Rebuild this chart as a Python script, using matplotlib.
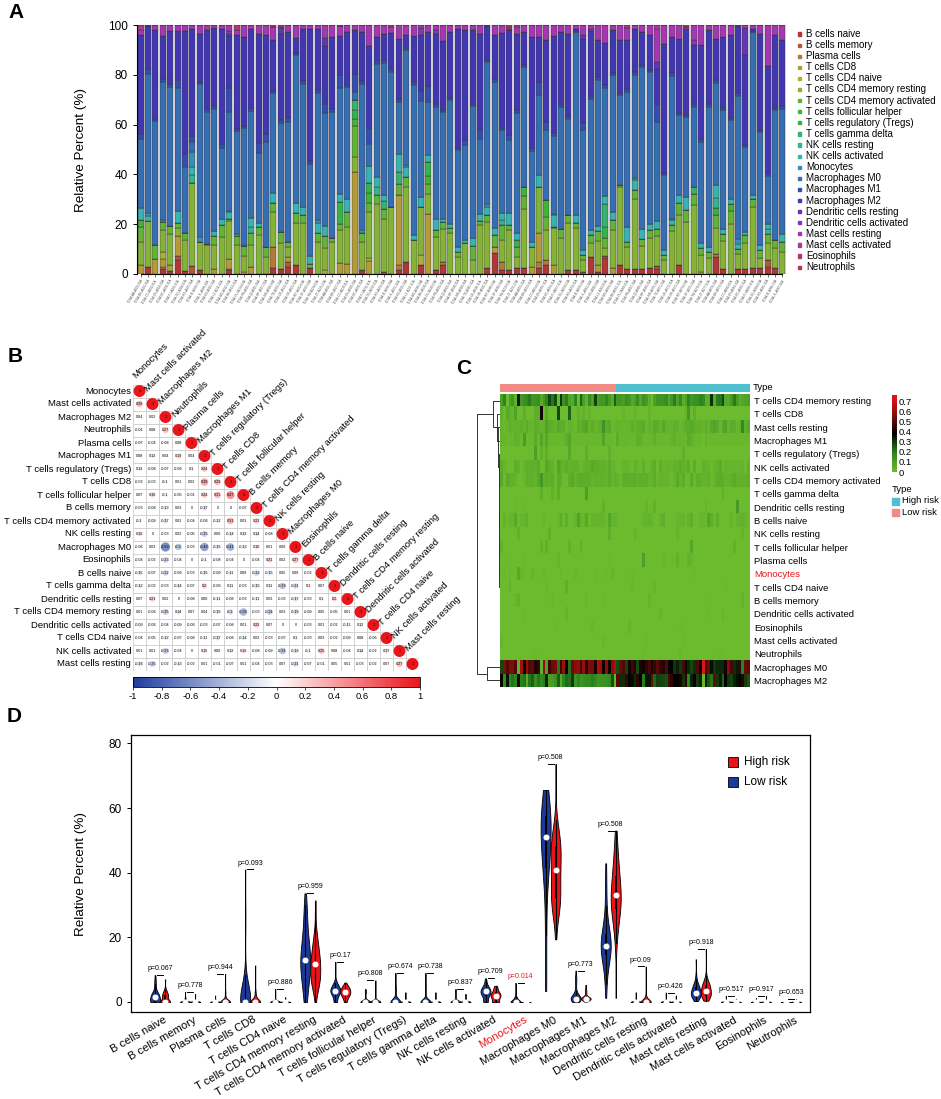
import colorsys
import numpy as np
import matplotlib
matplotlib.use("Agg")
import matplotlib.pyplot as plt
from matplotlib.colors import LinearSegmentedColormap, ListedColormap, Normalize
from matplotlib.patches import Rectangle, Circle
from matplotlib.cm import ScalarMappable

plt.rcParams['font.family'] = ['Liberation Sans', 'DejaVu Sans']

cell_types = ["B cells naive", "B cells memory", "Plasma cells", "T cells CD8",
              "T cells CD4 naive", "T cells CD4 memory resting",
              "T cells CD4 memory activated", "T cells follicular helper",
              "T cells regulatory (Tregs)", "T cells gamma delta", "NK cells resting",
              "NK cells activated", "Monocytes", "Macrophages M0", "Macrophages M1",
              "Macrophages M2", "Dendritic cells resting", "Dendritic cells activated",
              "Mast cells resting", "Mast cells activated", "Eosinophils", "Neutrophils"]

# ---- panel A: relative percent per sample (88 samples) ----
b_naive = [0, 2.7, 0, 1.9, 1.3, 5.6, 1.3, 0, 1.6, 0,
           0, 0, 1.6, 0, 0, 0, 0, 0, 2.3, 1.9,
           2.7, 3.6, 0, 2.3, 0, 0, 0, 0, 0, 0,
           1.6, 0, 0, 0, 0, 1.5, 4.9, 0, 3.6, 0,
           1.6, 3.6, 0, 0, 0, 0, 0, 2.3, 8.3, 1.6,
           1.6, 2.3, 2.3, 0, 2.3, 3.6, 0, 0, 1.6, 1.6,
           0, 7.0, 1.0, 6.3, 0, 3.6, 1.9, 2.0, 2.0, 2.5,
           1.9, 0, 0, 3.6, 0, 0, 0, 0, 7.0, 2.0,
           0, 2.0, 2.0, 2.5, 2.5, 3.0, 2.5, 0]
t_cd8 = [3.6, 0, 6.2, 3.5, 2.3, 8.3, 0, 0, 0, 0,
         2.0, 0, 4.0, 0, 0, 2.7, 0, 0, 0, 0,
         2.3, 0, 0, 0, 0, 0, 0, 4.3, 4.0, 41.0,
         0, 5.4, 0, 0, 0, 28.1, 0, 0, 0, 24.2,
         0, 0, 0, 0, 0, 0, 0, 0, 2.7, 0,
         0, 0, 0, 2.7, 11.3, 0, 3.6, 0, 0, 0,
         0, 0, 2.7, 0, 2.3, 0, 0, 0, 0, 0,
         0, 0, 0, 0, 0, 0, 0, 0, 0, 0,
         0, 0, 0, 0, 0, 0, 0, 0]
t_cd4_resting = [9.4, 18.6, 0, 9.0, 12.4, 3.0, 12.3, 33.6, 11.4, 11.6,
                 9.6, 15.0, 15.0, 11.6, 6.3, 9.0, 15.7, 7.0, 14.0, 10.4,
                 4.0, 16.7, 20.3, 0, 13.0, 9.0, 13.0, 13.4, 15.0, 6.0,
                 11.4, 18.3, 28.2, 20.9, 27.0, 0, 30.0, 13.7, 19.4, 8.0,
                 13.4, 13.4, 16.3, 7.0, 12.3, 5.6, 19.7, 18.7, 0, 8.7,
                 16.0, 4.5, 24.0, 8.0, 18.6, 12.0, 14.7, 14.3, 18.7, 16.7,
                 5.0, 5.3, 9.4, 3.3, 15.4, 31.4, 9.0, 28.3, 9.2, 12.0,
                 12.0, 5.5, 17.1, 20.0, 20.9, 27.6, 7.0, 6.3, 10.6, 11.2,
                 20.2, 6.2, 10.6, 24.5, 4.0, 7.0, 8.0, 9.0]
t_cd4_activated = [5.7, 0, 5.6, 3.3, 3.3, 2.1, 2.7, 0, 0, 0.6,
                   3.7, 4.7, 1.0, 3.6, 4.0, 4.7, 3.3, 4.0, 3.6, 4.4,
                   2.0, 4.0, 3.4, 1.7, 3.3, 4.6, 1.3, 2.3, 6.0, 12.4,
                   3.3, 4.0, 3.4, 4.3, 0, 4.7, 4.1, 0, 0, 4.0,
                   2.7, 2.6, 2.2, 2.0, 0, 5.8, 1.5, 2.6, 4.7, 6.0,
                   2.0, 4.0, 5.1, 0, 0, 5.3, 0.6, 3.9, 3.3, 2.0,
                   2.0, 3.3, 4.0, 4.0, 4.0, 0.6, 2.0, 3.3, 3.0, 3.0,
                   3.0, 2.0, 2.5, 5.0, 5.0, 4.4, 2.5, 2.5, 5.0, 3.0,
                   5.1, 2.0, 3.0, 3.3, 3.0, 3.5, 3.0, 4.0]
nk_activated = [4.7, 2.0, 0, 0, 0, 4.7, 0, 3.3, 0, 0,
                2.1, 2.5, 2.6, 1.0, 0, 3.5, 1.6, 0, 3.8, 0,
                0, 4.2, 3.3, 3.2, 4.0, 4.0, 0, 3.3, 5.0, 0,
                0, 6.7, 3.9, 2.7, 0, 7.3, 4.0, 2.0, 4.0, 2.5,
                4.5, 1.3, 1.7, 2.0, 1.4, 3.0, 3.0, 3.3, 2.6, 2.7,
                4.7, 2.7, 0, 2.0, 4.7, 0, 4.7, 0, 0, 3.3,
                2.0, 2.0, 2.0, 3.3, 3.3, 0, 6.0, 4.0, 4.0, 2.7,
                3.3, 2.0, 2.0, 3.0, 5.0, 0, 2.0, 2.0, 5.3, 2.0,
                2.0, 2.0, 1.3, 1.3, 2.0, 2.0, 0, 3.0]
mac_m0 = [28.0, 55.9, 49.5, 55.2, 55.8, 49.3, 26.8, 4.0, 61.5, 52.9,
          48.9, 28.4, 39.5, 41.1, 46.8, 43.2, 27.8, 42.0, 40.1, 44.1,
          48.2, 59.6, 49.5, 37.1, 50.9, 45.7, 50.8, 42.2, 45.0, 3.4,
          58.9, 8.7, 45.5, 52.9, 54.2, 20.8, 46.2, 60.3, 38.2, 21.4,
          44.9, 42.8, 49.5, 38.7, 38.2, 52.9, 30.2, 56.9, 58.9, 33.4,
          29.4, 48.2, 48.2, 36.8, 32.2, 28.1, 31.4, 48.9, 38.8, 73.6,
          48.0, 52.8, 58.9, 43.5, 54.9, 36.2, 54.2, 41.5, 64.9, 60.9,
          39.5, 30.1, 57.5, 32.1, 32.1, 32.2, 40.8, 56.3, 40.9, 47.5,
          31.4, 57.5, 34.1, 65.6, 45.5, 19.4, 52.2, 50.4]
mac_m1 = [2.0, 2.0, 1.0, 1.3, 1.3, 3.3, 4.9, 2.4, 0.5, 1.0,
          1.3, 1.7, 9.7, 1.0, 1.0, 1.0, 4.3, 3.4, 1.0, 1.0,
          1.3, 0.5, 1.0, 1.0, 1.0, 3.4, 1.0, 5.3, 1.0, 7.4,
          1.0, 6.7, 1.0, 1.0, 1.0, 1.0, 0.5, 1.0, 4.0, 6.7,
          1.0, 1.0, 1.0, 1.0, 2.0, 1.0, 3.3, 1.0, 1.0, 1.0,
          2.0, 1.0, 1.0, 1.0, 5.3, 3.3, 1.0, 1.0, 1.0, 0,
          2.7, 1.0, 1.0, 1.0, 1.0, 1.0, 1.0, 1.0, 1.0, 1.0,
          7.4, 1.0, 1.0, 1.0, 1.0, 1.0, 1.0, 1.0, 1.0, 1.0,
          1.0, 1.0, 1.0, 0, 1.0, 1.0, 1.0, 1.0]
mac_m2 = [39.4, 17.2, 35.6, 17.4, 21.1, 18.8, 49.6, 42.9, 19.4, 31.8,
          31.2, 46.0, 21.1, 37.5, 35.8, 31.8, 43.5, 39.7, 20.4, 34.5,
          34.8, 6.2, 20.9, 53.0, 24.6, 23.4, 29.2, 15.8, 21.0, 17.4,
          19.7, 32.8, 9.7, 10.4, 14.5, 24.4, 5.5, 18.4, 22.7, 21.4,
          28.4, 27.8, 26.5, 47.6, 44.1, 29.8, 38.8, 13.7, 17.9, 37.9,
          42.1, 30.5, 13.1, 44.5, 18.1, 32.8, 39.2, 29.1, 33.1, 1.3,
          33.8, 26.1, 14.9, 17.0, 16.9, 21.0, 19.7, 17.1, 13.1, 13.7,
          14.0, 51.9, 14.4, 29.8, 34.3, 23.7, 37.8, 29.8, 16.4, 28.5,
          33.1, 27.2, 35.8, 1.3, 38.5, 43.2, 29.1, 26.4]
# minor populations: only the samples where a segment is visible
b_memory = {5: 1.5, 7: 3.1, 20: 2.0, 33: 1.0, 60: 0.8, 63: 1.0, 70: 1.2, 85: 2.5}
plasma = {3: 0.8, 12: 0.5, 18: 8.7, 35: 2.0, 41: 1.2, 49: 3.3, 54: 2.7, 55: 2.0, 78: 1.0}
t_cd4_naive = {3: 2.5, 14: 1.0, 25: 1.5, 31: 1.0, 38: 4.1, 76: 0.8}
t_fh = {0: 3.0, 29: 3.0, 31: 4.0, 39: 3.0, 52: 3.5, 55: 6.7, 80: 3.0}
t_reg = {27: 9.0, 29: 3.5, 31: 4.0, 39: 5.9, 51: 3.0, 63: 4.4, 78: 3.0}
t_gd = {29: 3.8, 33: 3.0, 35: 4.7, 63: 9.0, 75: 3.0}
nk_resting = {7: 3.0, 15: 2.5, 32: 3.5, 49: 2.0, 78: 4.0, 85: 2.0}
monocytes = {1: 1.0, 3: 0.8, 7: 5.9, 8: 2.0, 12: 0.7, 14: 0.4, 24: 1.5, 30: 1.2,
             36: 0.9, 47: 1.2, 56: 0.5, 67: 1.0, 72: 0.6, 81: 1.8}
dc_resting = {5: 1.0, 12: 0.8, 19: 2.5, 25: 3.0, 60: 1.5, 70: 3.0, 82: 11.0}
dc_activated = {12: 1.0, 38: 2.9, 40: 1.5, 61: 0.8, 75: 2.0}
mast_activated = {0: 1.9, 19: 0.8, 51: 1.0, 70: 1.5}
eosinophils = {13: 1.9, 34: 0.8, 50: 0.6, 66: 1.2}
neutrophils = {18: 0.9, 27: 0.4, 50: 0.9, 74: 0.7}

risk = ("LLLLLLHLLH" "HHLHHHHHHH" "HLLHLHHLLL" "LLLLLLLLLL" "HHHHHLHLLH"
        "HHLHHHHHHH" "HHLLLHLLLL" "LHLHHHHHLH" "HLHLHHHH")

# ---- panel B: correlation matrix (lower triangle, without diagonal) ----
corr_order = ["Monocytes", "Mast cells activated", "Macrophages M2", "Neutrophils",
              "Plasma cells", "Macrophages M1", "T cells regulatory (Tregs)", "T cells CD8",
              "T cells follicular helper", "B cells memory", "T cells CD4 memory activated",
              "NK cells resting", "Macrophages M0", "Eosinophils", "B cells naive",
              "T cells gamma delta", "Dendritic cells resting", "T cells CD4 memory resting",
              "Dendritic cells activated", "T cells CD4 naive", "NK cells activated",
              "Mast cells resting"]
corr_rows = [
    [],
    [0.29],
    [0.04, 0.02],
    [-0.01, 0.08, 0.27],
    [-0.07, -0.04, -0.08, 0.08],
    [0.08, 0.13, 0.04, 0.19, 0.04],
    [0.13, -0.08, -0.07, -0.06, 0.1, 0.24],
    [-0.02, -0.03, -0.1, 0.01, 0.02, 0.39, 0.29],
    [0.07, 0.19, -0.1, -0.05, -0.01, 0.24, 0.31, 0.47],
    [-0.03, -0.08, -0.13, 0.03, 0, -0.17, 0, 0, -0.07],
    [-0.1, -0.09, -0.17, 0.02, -0.04, -0.06, -0.12, 0.31, 0.03, 0.22],
    [0.16, 0, -0.03, 0.02, -0.05, -0.25, 0.06, -0.14, 0.13, 0.14, -0.08],
    [-0.06, 0.03, -0.59, -0.3, -0.03, -0.48, -0.15, -0.41, -0.13, 0.16, 0.01, 0.06],
    [-0.04, -0.02, -0.23, -0.04, 0, -0.1, -0.08, -0.04, 0, -0.04, 0.21, 0.02, 0.27],
    [-0.15, -0.07, -0.22, -0.06, -0.03, -0.15, -0.09, -0.11, 0.09, -0.22, -0.15, 0.05,
     0.09, -0.02],
    [-0.12, -0.02, -0.03, -0.14, -0.07, 0.2, -0.06, 0.11, -0.03, -0.15, 0.11, -0.29,
     -0.21, 0.1, 0.07],
    [0.07, 0.21, 0.02, 0, -0.08, 0.09, -0.11, -0.08, -0.03, -0.11, 0.03, -0.02, -0.17,
     -0.03, 0.1, 0.2],
    [0.01, -0.06, -0.25, 0.14, 0.07, 0.04, -0.15, -0.2, -0.39, -0.03, -0.24, 0.03, -0.19,
     -0.09, 0.05, -0.05, 0.01],
    [-0.09, -0.06, -0.04, -0.09, -0.06, -0.03, -0.07, -0.08, 0.01, 0.22, 0.07, 0, 0,
     -0.03, 0.01, -0.02, -0.11, 0.12],
    [-0.04, -0.05, -0.12, -0.07, -0.08, -0.11, -0.17, -0.08, -0.14, 0.02, -0.03, -0.07,
     0.1, -0.03, 0.03, -0.02, -0.09, 0.08, -0.06],
    [0.01, 0.01, -0.26, -0.04, 0, 0.15, 0.09, 0.12, 0.16, -0.08, -0.09, -0.31, -0.16,
     -0.1, 0.25, 0.08, -0.04, 0.14, -0.02, 0.17],
    [-0.16, -0.25, -0.02, -0.13, -0.02, 0.01, -0.01, -0.07, 0.01, -0.04, -0.03, 0.07,
     -0.21, -0.07, -0.01, 0.05, 0.01, -0.03, -0.02, 0.07, 0.27],
]

# ---- panel C: heatmap row order + dendrogram merges (node, node, height) ----
heat_order = ["T cells CD4 memory resting", "T cells CD8", "Mast cells resting",
              "Macrophages M1", "T cells regulatory (Tregs)", "NK cells activated",
              "T cells CD4 memory activated", "T cells gamma delta", "Dendritic cells resting",
              "B cells naive", "NK cells resting", "T cells follicular helper", "Plasma cells",
              "Monocytes", "T cells CD4 naive", "B cells memory", "Dendritic cells activated",
              "Eosinophils", "Mast cells activated", "Neutrophils", "Macrophages M0",
              "Macrophages M2"]
den_merges = [(18, 19, 0.010), (17, 22, 0.012), (16, 23, 0.014), (15, 24, 0.016),
              (14, 25, 0.018), (13, 26, 0.020), (12, 27, 0.022), (11, 28, 0.025),
              (10, 29, 0.028), (9, 30, 0.032), (8, 31, 0.036), (7, 32, 0.040),
              (6, 33, 0.045), (5, 34, 0.050), (4, 35, 0.055), (3, 36, 0.070),
              (2, 37, 0.100), (1, 38, 0.140), (0, 39, 0.300), (20, 21, 0.570),
              (40, 41, 1.000)]

# ---- panel D: Wilcoxon p values ----
p_values = [0.067, 0.778, 0.944, 0.093, 0.886, 0.959, 0.17, 0.808, 0.674, 0.738, 0.837,
            0.709, 0.014, 0.508, 0.773, 0.508, 0.09, 0.426, 0.918, 0.517, 0.917, 0.653]

n = len(b_naive)


def expand(d):
    a = np.zeros(n)
    for i, v in d.items():
        a[i] = v
    return a


pct = {
    "B cells naive": np.array(b_naive), "B cells memory": expand(b_memory),
    "Plasma cells": expand(plasma), "T cells CD8": np.array(t_cd8),
    "T cells CD4 naive": expand(t_cd4_naive), "T cells CD4 memory resting": np.array(t_cd4_resting),
    "T cells CD4 memory activated": np.array(t_cd4_activated),
    "T cells follicular helper": expand(t_fh), "T cells regulatory (Tregs)": expand(t_reg),
    "T cells gamma delta": expand(t_gd), "NK cells resting": expand(nk_resting),
    "NK cells activated": np.array(nk_activated), "Monocytes": expand(monocytes),
    "Macrophages M0": np.array(mac_m0), "Macrophages M1": np.array(mac_m1),
    "Macrophages M2": np.array(mac_m2), "Dendritic cells resting": expand(dc_resting),
    "Dendritic cells activated": expand(dc_activated),
    "Mast cells activated": expand(mast_activated), "Eosinophils": expand(eosinophils),
    "Neutrophils": expand(neutrophils),
}
# mast cells resting fill the rest of each bar
pct["Mast cells resting"] = np.clip(100 - sum(pct.values()), 0, None)

colors = [colorsys.hsv_to_rgb(i / 22, 0.7, 0.7) for i in range(22)]

W, H = 941, 1099
fig = plt.figure(figsize=(W / 100, H / 100), dpi=100)


def box(x0, y0, x1, y1):
    return fig.add_axes([x0 / W, 1 - y1 / H, (x1 - x0) / W, (y1 - y0) / H])


# ================= A =================
axA = box(137, 25, 786, 274)
x = np.arange(n)
bottom = np.zeros(n)
for name, col in zip(cell_types, colors):
    axA.bar(x, pct[name], 0.82, bottom=bottom, color=col, edgecolor='#3a3a3a', linewidth=0.35)
    bottom += pct[name]
axA.set_xlim(-0.5, n - 0.5)
axA.set_ylim(0, 100)
for s in ['top', 'right']:
    axA.spines[s].set_visible(False)
axA.spines['left'].set_bounds(0, 100)
axA.spines['bottom'].set_bounds(0, n - 1)
axA.set_yticks([0, 20, 40, 60, 80, 100])
axA.tick_params(axis='y', labelsize=8.5, length=3, width=0.7)
sample_ids = [f"TCGA-{chr(65 + i % 26)}{chr(65 + (i * 7) % 26)}-A{i:03d}-01A" for i in range(n)]
axA.set_xticks(x)
axA.set_xticklabels(sample_ids, rotation=60, fontsize=2.2, ha='right',
                    rotation_mode='anchor', color='#555555')
axA.tick_params(axis='x', length=2, width=0.4, pad=1)
fig.text(81 / W, 1 - 150 / H, "Relative Percent (%)", rotation=90, ha='center', va='center',
         fontsize=9.7)

axL = box(790, 25, 941, 275)
axL.set_xlim(0, 151)
axL.set_ylim(250, 0)
axL.axis('off')
for i, (name, col) in enumerate(zip(cell_types, colors)):
    yy = 9 + 11.1 * i
    axL.add_patch(Rectangle((7.5, yy - 1.6), 3.2, 3.2, color=col))
    axL.text(16, yy, name, fontsize=7, va='center', ha='left')

# ================= B =================
cmapB = LinearSegmentedColormap.from_list('bwr_c', ['#1E3C9C', '#FFFFFF', '#E8151B'])
axB = box(133, 384.5, 419, 670.5)
axB.set_xlim(-0.5, 21.5)
axB.set_ylim(21.5, -0.5)
axB.axis('off')
for i in range(22):
    vals = corr_rows[i] + [1.0]
    for j, r in enumerate(vals):
        axB.add_patch(Rectangle((j - 0.5, i - 0.5), 1, 1, fc='white', ec='#c8c8c8', lw=0.5))
        if r != 0:
            axB.add_patch(Circle((j, i), 0.46 * np.sqrt(abs(r)), fc=cmapB((r + 1) / 2),
                                 ec='none'))
        axB.text(j, i, '%g' % r, ha='center', va='center', fontsize=2.7, color='black')
    axB.text(-0.65, i, corr_order[i], ha='right', va='center', fontsize=6.8)
    axB.text(i - 0.2, i - 0.85, corr_order[i], ha='left', va='bottom', rotation=45,
             rotation_mode='anchor', fontsize=6.8)
axBC = box(133, 677, 420, 687)
cbB = fig.colorbar(ScalarMappable(Normalize(-1, 1), cmapB), cax=axBC, orientation='horizontal')
ticksB = np.round(np.linspace(-1, 1, 11), 1)
cbB.set_ticks(ticksB)
cbB.set_ticklabels(['%g' % t for t in ticksB])
cbB.ax.tick_params(labelsize=6.8, length=2, width=0.5, pad=1.5)
cbB.outline.set_linewidth(0.6)

# ================= C =================
order = [i for i in range(n) if risk[i] == 'L'] + [i for i in range(n) if risk[i] == 'H']
mat = np.array([pct[name][order] / 100 for name in heat_order])
cmapC = LinearSegmentedColormap.from_list('gbr', [(0, '#6CBA2E'), (0.25, '#2A8420'),
                                                  (0.5, '#000000'), (0.75, '#8A0E0E'),
                                                  (1, '#E8141A')])
vmaxC = 0.76
axC = box(500, 394, 750, 687)
axC.imshow(mat, aspect='auto', cmap=cmapC, vmin=0, vmax=vmaxC, interpolation='nearest')
axC.set_xticks([])
axC.yaxis.tick_right()
axC.set_yticks(range(22))
axC.set_yticklabels(heat_order, fontsize=6.8)
axC.tick_params(axis='y', length=0, pad=3)
for lab in axC.get_yticklabels():
    if lab.get_text() == "Monocytes":
        lab.set_color('#E8141A')
for s in axC.spines.values():
    s.set_visible(False)

low_col, high_col = '#F08A84', '#4EC0CF'
axT = box(500, 384, 750, 392)
grp = np.array([[0 if risk[i] == 'L' else 1 for i in order]])
axT.imshow(grp, aspect='auto', cmap=ListedColormap([low_col, high_col]), vmin=0, vmax=1,
           interpolation='nearest')
axT.axis('off')
fig.text(753 / W, 1 - 388 / H, "Type", fontsize=6.8, va='center')

axCC = box(892, 395, 897, 472)
cbC = fig.colorbar(ScalarMappable(Normalize(0, vmaxC), cmapC), cax=axCC)
ticksC = np.round(np.arange(0, 0.71, 0.1), 1)
cbC.set_ticks(ticksC)
cbC.set_ticklabels(['%g' % t for t in ticksC])
cbC.ax.tick_params(labelsize=6.8, length=0, pad=1.5)
cbC.outline.set_visible(False)
fig.text(892 / W, 1 - 489 / H, "Type", fontsize=6.8, va='center')
for k, (lab, col) in enumerate([("High risk", high_col), ("Low risk", low_col)]):
    yc = 501 + 11.5 * k
    fig.patches.append(Rectangle((892 / W, 1 - (yc + 3.5) / H), 7 / W, 7 / H, color=col,
                                 transform=fig.transFigure))
    fig.text(902 / W, 1 - yc / H, lab, fontsize=6.8, va='center')

axDen = box(470, 394, 500, 687)
axDen.set_xlim(30 / 23, 0)
axDen.set_ylim(21.5, -0.5)
axDen.axis('off')
pos = {i: (float(i), 0.0) for i in range(22)}
for k, (a, b, h) in enumerate(den_merges):
    ya, ha = pos[a]
    yb, hb = pos[b]
    axDen.plot([ha, h, h, hb], [ya, ya, yb, yb], color='#333333', lw=0.7)
    pos[22 + k] = ((ya + yb) / 2, h)

# ================= D =================
blue, red = '#1C3A98', '#E8141A'
axD = box(131, 735, 810, 1012)
axD.set_xlim(-2.4, 65.4)
axD.set_ylim(-3.1, 82.6)


def violin(ax, vals, xc, color):
    lo, hi = vals.min(), vals.max()
    q1, med, q3 = np.percentile(vals, [25, 50, 75])
    if hi - lo > 1e-9:
        h = vals.std(ddof=1) * (4 / (3 * len(vals))) ** 0.2
        ys = np.linspace(lo, hi, 300)
        dens = np.exp(-0.5 * ((ys[:, None] - vals[None, :]) / h) ** 2).sum(1)
        w = dens / dens.max() * 0.5
        ax.fill_betweenx(ys, xc - w, xc + w, facecolor=color, edgecolor='black', linewidth=0.6)
        iqr = q3 - q1
        wl = vals[vals >= q1 - 1.5 * iqr].min()
        wh = vals[vals <= q3 + 1.5 * iqr].max()
        ax.plot([xc, xc], [wl, wh], color='black', lw=0.8)
        ax.add_patch(Rectangle((xc - 0.06, q1), 0.12, q3 - q1, fc='black', ec='none'))
    ax.plot(xc, med, 'o', ms=3.3, mfc='white', mec='white')


for i, name in enumerate(cell_types):
    v = pct[name]
    low = np.array([v[k] for k in range(n) if risk[k] == 'L'])
    high = np.array([v[k] for k in range(n) if risk[k] == 'H'])
    violin(axD, low, 3 * i, blue)
    violin(axD, high, 3 * i + 1, red)
    mx = max(low.max(), high.max())
    axD.plot([3 * i + 0.2, 3 * i + 0.8], [mx, mx], color='black', lw=0.7)
    axD.text(3 * i + 0.5, mx + 0.9, 'p=%g' % p_values[i], ha='center', va='bottom', fontsize=5,
             color=red if name == "Monocytes" else 'black')

axD.set_yticks([0, 20, 40, 60, 80])
axD.tick_params(axis='y', labelsize=8.5, length=3, width=0.7)
axD.set_xticks(np.arange(22) * 3 + 0.8)
axD.set_xticklabels(cell_types, rotation=30, ha='right', rotation_mode='anchor', fontsize=8)
axD.tick_params(axis='x', length=0, pad=2)
for lab in axD.get_xticklabels():
    if lab.get_text() == "Monocytes":
        lab.set_color(red)
for s in axD.spines.values():
    s.set_linewidth(0.9)
fig.text(81 / W, 1 - 874 / H, "Relative Percent (%)", rotation=90, ha='center', va='center',
         fontsize=9.7)
for k, (lab, col) in enumerate([("High risk", red), ("Low risk", blue)]):
    yc = 762 + 20 * k
    fig.patches.append(Rectangle((728 / W, 1 - (yc + 5) / H), 10 / W, 10 / H, fc=col,
                                 ec='black', lw=0.6, transform=fig.transFigure))
    fig.text(744 / W, 1 - yc / H, lab, fontsize=8.5, va='center')

# panel letters
for letter, (px, py) in {"A": (8, 13), "B": (8, 356), "C": (456, 368), "D": (7, 717)}.items():
    fig.text(px / W, 1 - py / H, letter, fontsize=15, fontweight='bold', va='center', ha='left')

fig.savefig("out.png", dpi=100)
